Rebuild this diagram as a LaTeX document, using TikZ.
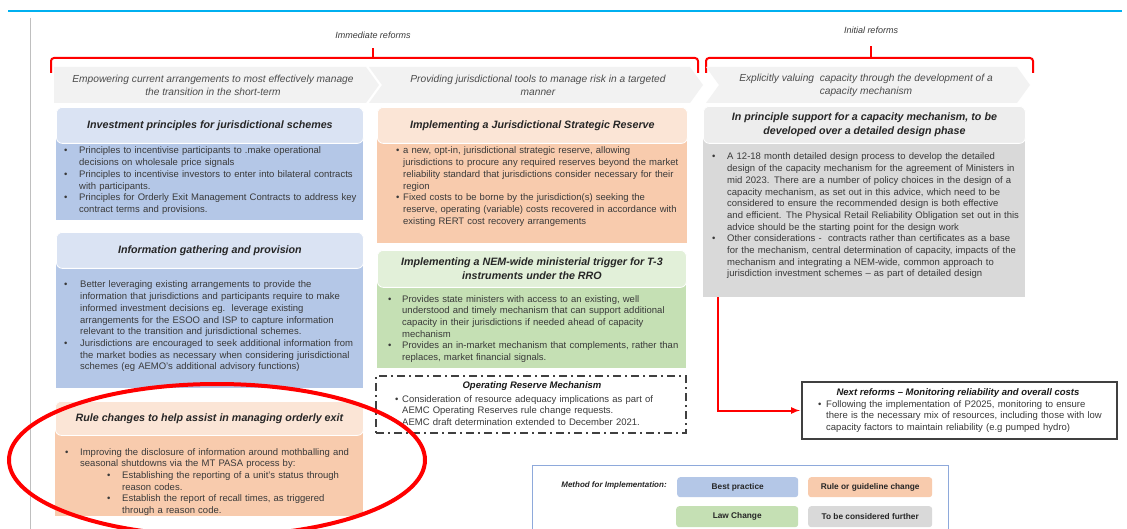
\documentclass[tikz,border=0pt]{standalone}
\usepackage{fontspec}
\setmainfont{Liberation Sans}
\usetikzlibrary{arrows,shapes,backgrounds}

\definecolor{bluHd}{HTML}{DAE3F3}
\definecolor{bluBd}{HTML}{B4C7E7}
\definecolor{pchHd}{HTML}{FBE5D6}
\definecolor{pchBd}{HTML}{F8CBAD}
\definecolor{grnHd}{HTML}{E2F0D9}
\definecolor{grnBd}{HTML}{C5E0B4}
\definecolor{gryHd}{HTML}{EDEDED}
\definecolor{gryBd}{HTML}{D9D9D9}
\definecolor{chevGry}{HTML}{F2F2F2}
\definecolor{txtGry}{HTML}{3A3A3A}
\definecolor{topCyan}{HTML}{00B0F0}
\definecolor{lgdLine}{HTML}{8EA9DB}

% bullet with hanging indent, nested bullet
\newcommand\bpt[2]{\hangindent=#1\hangafter=1\noindent\makebox[#1][l]{\textbullet}#2\par}
\newcommand\bsub[3]{\hangindent=#2\hangafter=1\noindent\hspace*{#1}\makebox[\dimexpr#2-#1\relax][l]{\textbullet}#3\par}

\tikzset{
  hdr/.style={anchor=north west, rounded corners=6pt, draw=white, line width=0.8pt,
    inner sep=0pt, align=center, text=black!85,
    font=\fontsize{10.7}{14}\selectfont\bfseries\itshape},
  bodybox/.style={anchor=north west, inner sep=0pt},
  btxt/.style={anchor=base west, inner sep=0pt, align=left, text width=330pt,
    text=txtGry, font=\fontsize{9.5}{11.7}\selectfont},
  chev/.style={fill=chevGry},
  chevtxt/.style={align=center, text=black!70, font=\fontsize{10.2}{13}\selectfont\itshape},
  brace/.style={draw=red, line width=2pt, rounded corners=3pt},
  ttl/.style={text=black!90, font=\fontsize{9.5}{11}\selectfont\bfseries\itshape},
  lgd/.style={anchor=north west, rounded corners=3pt, inner sep=0pt,
    font=\fontsize{8.3}{10}\selectfont\bfseries, text=black!85},
}

\begin{document}
\begin{tikzpicture}[x=1pt,y=-1pt]
  \clip (0,0) rectangle (1127,529);
  \fill[white] (0,0) rectangle (1127,529);

  \draw[topCyan, line width=1.5pt] (8,11) -- (1122,11);
  \draw[black!25, line width=0.8pt] (30,18) -- (30,529);

  % braces over the columns
  \node[font=\fontsize{9}{11}\selectfont\itshape, text=txtGry] (immL) at (373,35) {Immediate reforms};
  \node[font=\fontsize{9}{11}\selectfont\itshape, text=txtGry] (iniL) at (871,30) {Initial reforms};
  \draw[brace] (51,73) -- (51,58) -- (698,58) -- (698,73);
  \draw[brace] (373,58) -- (373,48);
  \draw[brace] (706,73) -- (706,58) -- (1033,58) -- (1033,73);
  \draw[brace] (871,58) -- (871,46);

  % chevrons
  \fill[chev] (54,67) -- (366,67) -- (379,85) -- (366,103) -- (54,103) -- cycle;
  \fill[chev] (369,67) -- (690,67) -- (703,85) -- (690,103) -- (369,103) -- (382,85) -- cycle;
  \fill[chev] (706,67) -- (1017,67) -- (1030,85) -- (1017,103) -- (706,103) -- (719,85) -- cycle;
  \node[chevtxt] (chevA) at (213,85) {Empowering current arrangements to most effectively manage\\the transition in the short-term};
  \node[chevtxt] (chevB) at (538,85) {Providing jurisdictional tools to manage risk in a targeted\\manner};
  \node[chevtxt] (chevC) at (866,85) {Explicitly valuing\ \ capacity through the development of a\\capacity mechanism};

  % bodies
  \node[bodybox, fill=bluBd, minimum width=307pt, minimum height=95pt] (invB) at (56,125) {};
  \node[bodybox, fill=bluBd, minimum width=307pt, minimum height=138pt] (infoB) at (56,250) {};
  \node[bodybox, fill=pchBd, minimum width=308pt, minimum height=98pt] (ruleB) at (55,418) {};
  \node[bodybox, fill=pchBd, minimum width=310pt, minimum height=118pt] (jsrB) at (377,125) {};
  \node[bodybox, fill=grnBd, minimum width=309pt, minimum height=100pt] (nemB) at (377,268) {};
  \node[bodybox, fill=gryBd, minimum width=322pt, minimum height=172pt] (capB) at (703,125) {};

  % headers
  \node[hdr, fill=bluHd, minimum width=307pt, minimum height=36pt] (invH) at (56,107) {Investment principles for jurisdictional schemes};
  \node[hdr, fill=bluHd, minimum width=307pt, minimum height=36pt] (infoH) at (56,232) {Information gathering and provision};
  \node[hdr, fill=pchHd, minimum width=308pt, minimum height=34pt] (ruleH) at (55,401) {Rule changes to help assist in managing orderly exit};
  \node[hdr, fill=pchHd, minimum width=310pt, minimum height=36pt] (jsrH) at (377,107) {Implementing a Jurisdictional Strategic Reserve};
  \node[hdr, fill=grnHd, minimum width=309pt, minimum height=37pt] (nemH) at (377,250) {Implementing a NEM-wide ministerial trigger for T-3\\instruments under the RRO};
  \node[hdr, fill=gryHd, minimum width=322pt, minimum height=37pt] (capH) at (703,106) {In principle support for a capacity mechanism, to be\\developed over a detailed design phase};

  % body texts
  \node[btxt] (invT) at (64,154) {%
    \bpt{15pt}{Principles to incentivise participants to .make operational\newline decisions on wholesale price signals}
    \bpt{15pt}{Principles to incentivise investors to enter into bilateral contracts\newline with participants.}
    \bpt{15pt}{Principles for Orderly Exit Management Contracts to address key\newline contract terms and provisions.}};
  \node[btxt] (infoT) at (64,288) {%
    \bpt{16pt}{Better leveraging existing arrangements to provide the\newline information that jurisdictions and participants require to make\newline informed investment decisions eg.\ \ leverage existing\newline arrangements for the ESOO and ISP to capture information\newline relevant to the transition and jurisdictional schemes.}
    \bpt{16pt}{Jurisdictions are encouraged to seek additional information from\newline the market bodies as necessary when considering jurisdictional\newline schemes (eg AEMO’s additional advisory functions)}};
  \node[btxt] (ruleT) at (65,455) {%
    \bpt{15pt}{Improving the disclosure of information around mothballing and\newline seasonal shutdowns via the MT PASA process by:}
    \bsub{42pt}{57pt}{Establishing the reporting of a unit’s status through\newline reason codes.}
    \bsub{42pt}{57pt}{Establish the report of recall times, as triggered\newline through a reason code.}};
  \node[btxt] (jsrT) at (396,154) {%
    \bpt{7pt}{a new, opt-in, jurisdictional strategic reserve, allowing\newline jurisdictions to procure any required reserves beyond the market\newline reliability standard that jurisdictions consider necessary for their\newline region}
    \bpt{7pt}{Fixed costs to be borne by the jurisdiction(s) seeking the\newline reserve, operating (variable) costs recovered in accordance with\newline existing RERT cost recovery arrangements}};
  \node[btxt] (nemT) at (388,302) {%
    \bpt{14pt}{Provides state ministers with access to an existing, well\newline understood and timely mechanism that can support additional\newline capacity in their jurisdictions if needed ahead of capacity\newline mechanism}
    \bpt{14pt}{Provides an in-market mechanism that complements, rather than\newline replaces, market financial signals.}};
  \node[btxt] (capT) at (712,160) {%
    \bpt{15pt}{A 12-18 month detailed design process to develop the detailed\newline design of the capacity mechanism for the agreement of Ministers in\newline mid 2023. There are a number of policy choices in the design of a\newline capacity mechanism, as set out in this advice, which need to be\newline considered to ensure the recommended design is both effective\newline and efficient. The Physical Retail Reliability Obligation set out in this\newline advice should be the starting point for the design work}
    \bpt{15pt}{Other considerations -\ \ contracts rather than certificates as a base\newline for the mechanism, central determination of capacity, impacts of the\newline mechanism and integrating a NEM-wide, common approach to\newline jurisdiction investment schemes – as part of detailed design}};

  % operating reserve
  \node[bodybox, draw=black!75, line width=2pt, dash pattern=on 8pt off 4pt on 2pt off 4pt,
    minimum width=310pt, minimum height=57pt] (opB) at (375,375) {};
  \node[ttl] (opH) at (532,386) {Operating Reserve Mechanism};
  \node[btxt] (opT) at (395,402) {%
    \bpt{7pt}{Consideration of resource adequacy implications as part of\newline AEMC Operating Reserves rule change requests.}
    \bpt{7pt}{AEMC draft determination extended to December 2021.}};

  % next reforms
  \node[bodybox, draw=black!75, line width=2pt, minimum width=315pt, minimum height=57pt] (nextB) at (801,381) {};
  \node[ttl] (nextH) at (958,393) {Next reforms – Monitoring reliability and overall costs};
  \node[btxt] (nextT) at (818,407) {%
    \bpt{8pt}{Following the implementation of P2025, monitoring to ensure\newline there is the necessary mix of resources, including those with low\newline capacity factors to maintain reliability (e.g pumped hydro)}};
  \draw[red, line width=2pt, -latex, shorten >=1pt] ([xshift=15pt]capB.south west) |- (nextB.west);

  % legend
  \node[bodybox, draw=lgdLine, line width=1pt, minimum width=416pt, minimum height=90pt] (lgdB) at (532,465) {};
  \node[font=\fontsize{8}{10}\selectfont\bfseries\itshape, text=black!85] (lgdH) at (614,485) {Method for Implementation:};
  \node[lgd, fill=bluBd, minimum width=121pt, minimum height=20pt] (bestP) at (677,477) {Best practice};
  \node[lgd, fill=pchBd, minimum width=124pt, minimum height=20pt] (ruleC) at (808,477) {Rule or guideline change};
  \node[lgd, fill=grnBd, minimum width=122pt, minimum height=21pt] (lawC) at (676,506) {Law Change};
  \node[lgd, fill=gryBd, minimum width=124pt, minimum height=21pt] (furtherC) at (808,506) {To be considered further};

  % highlight ring
  \draw[red, line width=4pt] (217,460) ellipse [x radius=208, y radius=76];
\end{tikzpicture}
\end{document}
